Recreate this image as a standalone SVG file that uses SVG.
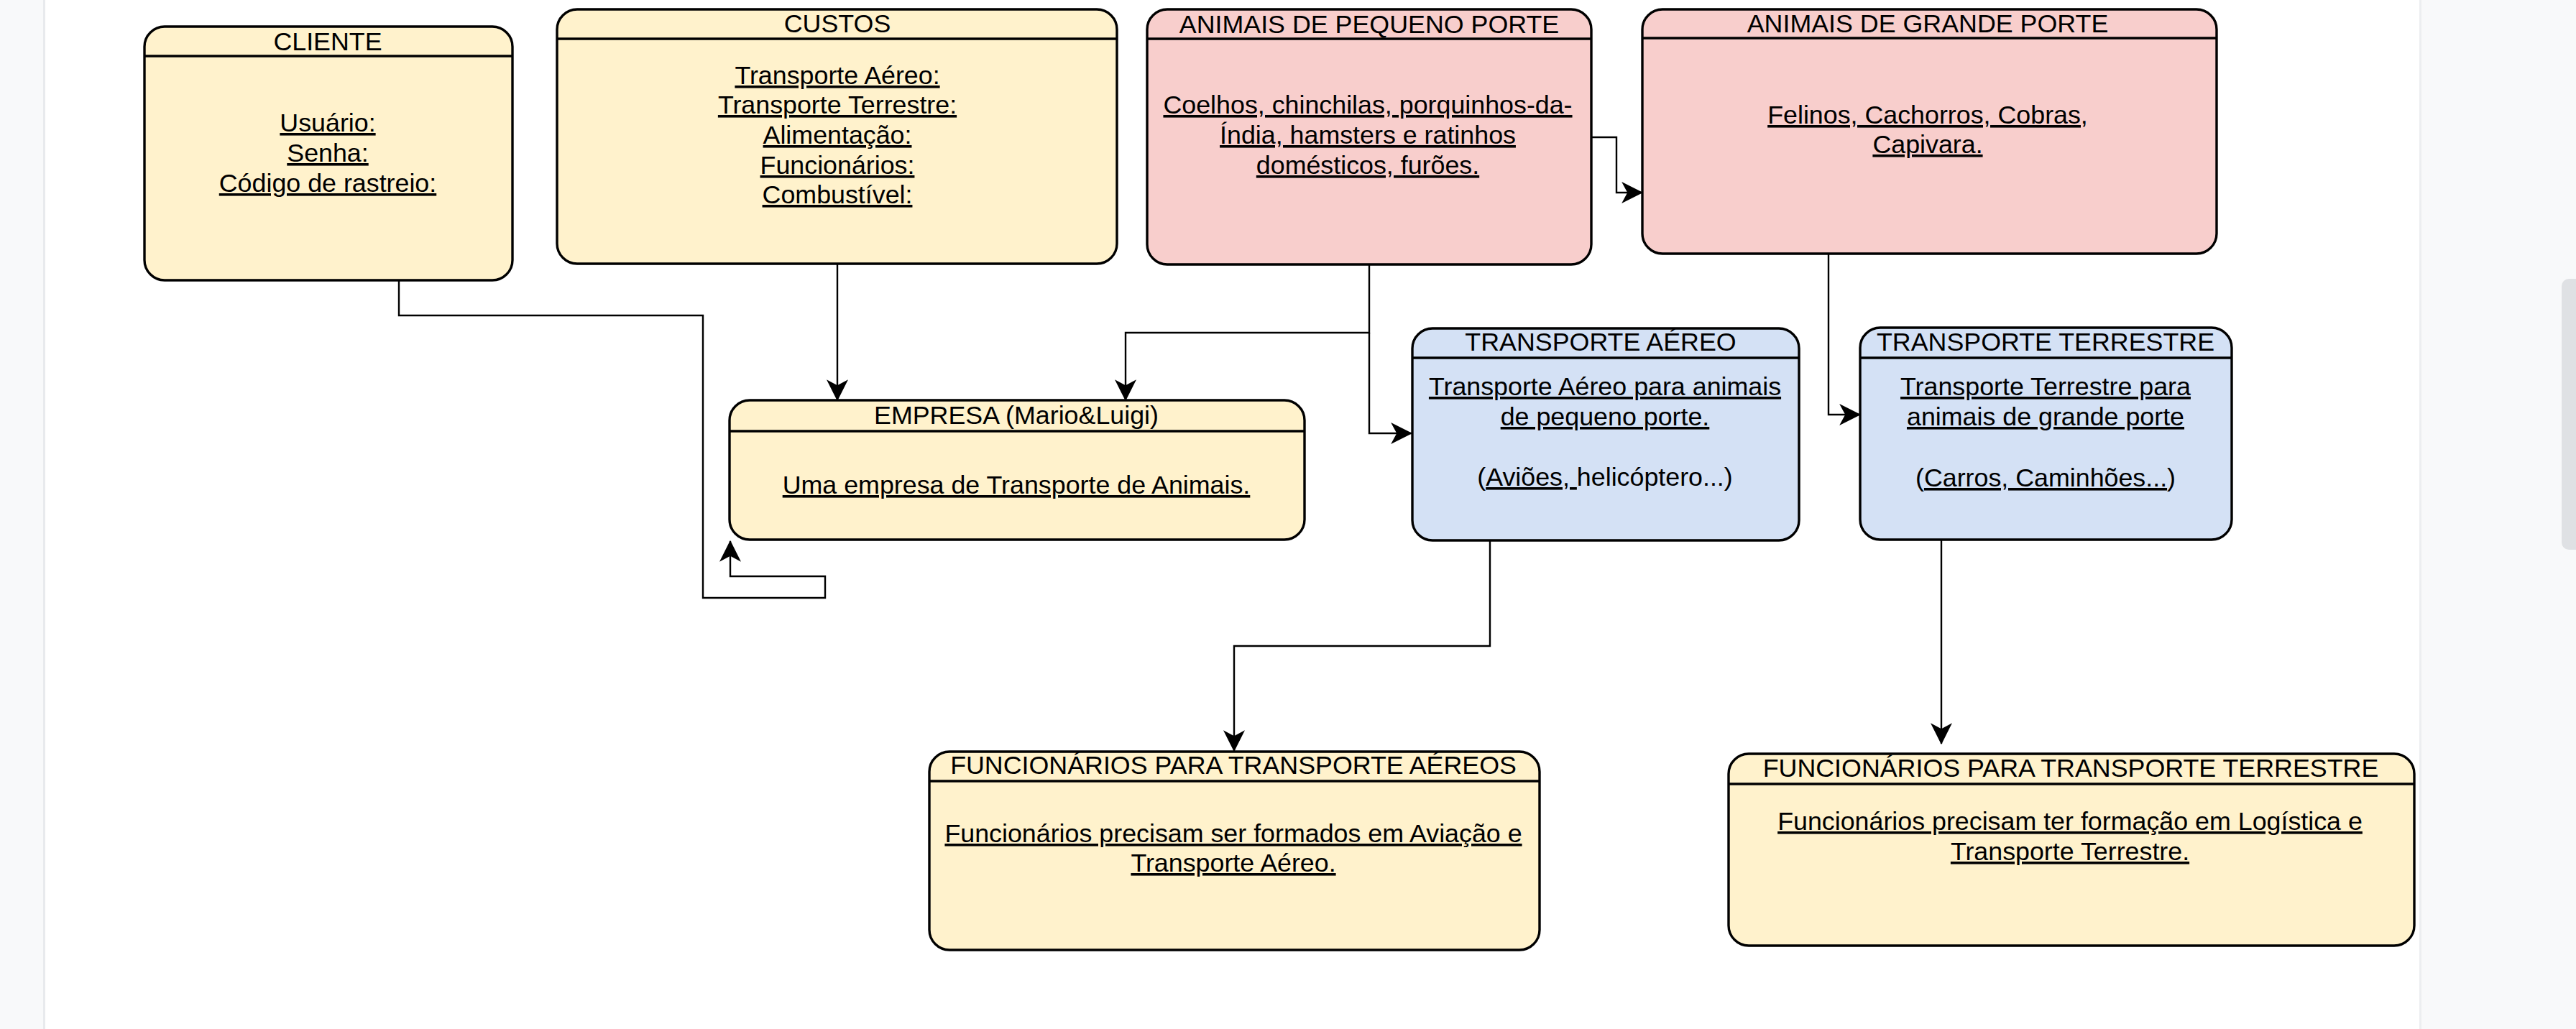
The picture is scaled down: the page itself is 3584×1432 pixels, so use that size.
<svg xmlns="http://www.w3.org/2000/svg" width="3584" height="1432" viewBox="0 0 3584 1432">
<style>
.box{stroke:#000;stroke-width:3.4}
.y{fill:#fff2cc}.p{fill:#f8cecc}.b{fill:#d4e1f5}
.hl{stroke:#000;stroke-width:3.4}
text{font-family:"Liberation Sans",Arial,Helvetica,sans-serif;font-size:35.8px;fill:#000;text-anchor:middle}
.u{text-decoration:underline}
.c{fill:none;stroke:#000;stroke-width:2.4}
</style>
<defs>
<marker id="arr" markerUnits="userSpaceOnUse" markerWidth="30" markerHeight="30" viewBox="0 0 26 26" refX="25" refY="13" orient="auto">
<path d="M0,0 L26,13 L0,26 L7,13 Z" fill="#000"/>
</marker>
</defs>
<rect x="0" y="0" width="3584" height="1432" fill="#ffffff"/>
<rect x="0" y="0" width="60" height="1432" fill="#f8f9fa"/>
<rect x="60" y="0" width="3" height="1432" fill="#e8eaed"/>
<rect x="3368" y="0" width="216" height="1432" fill="#f8f9fa"/>
<rect x="3366" y="0" width="3" height="1432" fill="#eceef0"/>
<rect x="3564" y="388" width="30" height="377" rx="10" fill="#dfe1e4"/>

<g id="connectors">
<path class="c" d="M555,390 V439 H978 V832 H1148 V802 H1016 V753" marker-end="url(#arr)"/>
<path class="c" d="M1165,367 V557" marker-end="url(#arr)"/>
<path class="c" d="M1905,368 V463 H1566 V557" marker-end="url(#arr)"/>
<path class="c" d="M1905,463 V603 H1964" marker-end="url(#arr)"/>
<path class="c" d="M2214,191 H2249 V268 H2285" marker-end="url(#arr)"/>
<path class="c" d="M2544,353 V577 H2588" marker-end="url(#arr)"/>
<path class="c" d="M2073,752 V899 H1717 V1045" marker-end="url(#arr)"/>
<path class="c" d="M2701,751 V1035" marker-end="url(#arr)"/>
</g>

<g id="cliente">
<rect class="box y" x="201" y="37" width="512" height="353" rx="28"/>
<line class="hl" x1="201" y1="78" x2="713" y2="78"/>
<text x="456" y="70">CLIENTE</text>
<text x="456" y="183" class="u">Usuário:</text>
<text x="456" y="225" class="u">Senha:</text>
<text x="456" y="267" class="u">Código de rastreio:</text>
</g>

<g id="custos">
<rect class="box y" x="775" y="13" width="779" height="354" rx="28"/>
<line class="hl" x1="775" y1="54" x2="1554" y2="54"/>
<text x="1165" y="45">CUSTOS</text>
<text x="1165" y="117" class="u">Transporte Aéreo:</text>
<text x="1165" y="158" class="u">Transporte Terrestre:</text>
<text x="1165" y="200" class="u">Alimentação:</text>
<text x="1165" y="242" class="u">Funcionários:</text>
<text x="1165" y="283" class="u">Combustível:</text>
</g>

<g id="pequeno">
<rect class="box p" x="1596" y="13" width="618" height="355" rx="28"/>
<line class="hl" x1="1596" y1="54" x2="2214" y2="54"/>
<text x="1905" y="46">ANIMAIS DE PEQUENO PORTE</text>
<text x="1903" y="158" class="u">Coelhos, chinchilas, porquinhos-da-</text>
<text x="1903" y="200" class="u">Índia, hamsters e ratinhos</text>
<text x="1903" y="242" class="u">domésticos, furões.</text>
</g>

<g id="grande">
<rect class="box p" x="2285" y="13" width="799" height="340" rx="28"/>
<line class="hl" x1="2285" y1="53" x2="3084" y2="53"/>
<text x="2682" y="45">ANIMAIS DE GRANDE PORTE</text>
<text x="2682" y="172" class="u">Felinos, Cachorros, Cobras,</text>
<text x="2682" y="213" class="u">Capivara.</text>
</g>

<g id="empresa">
<rect class="box y" x="1015" y="557" width="800" height="194" rx="28"/>
<line class="hl" x1="1015" y1="600" x2="1815" y2="600"/>
<text x="1414" y="590">EMPRESA (Mario&amp;Luigi)</text>
<text x="1414" y="687" class="u">Uma empresa de Transporte de Animais.</text>
</g>

<g id="aereo">
<rect class="box b" x="1965" y="457" width="538" height="295" rx="28"/>
<line class="hl" x1="1965" y1="498" x2="2503" y2="498"/>
<text x="2227" y="488">TRANSPORTE AÉREO</text>
<text x="2233" y="550" class="u">Transporte Aéreo para animais</text>
<text x="2233" y="592" class="u">de pequeno porte.</text>
<text x="2233" y="676">(<tspan class="u">Aviões, </tspan>helicóptero...)</text>
</g>

<g id="terrestre">
<rect class="box b" x="2588" y="456" width="517" height="295" rx="28"/>
<line class="hl" x1="2588" y1="498" x2="3105" y2="498"/>
<text x="2846" y="488">TRANSPORTE TERRESTRE</text>
<text x="2846" y="550" class="u">Transporte Terrestre para</text>
<text x="2846" y="592" class="u">animais de grande porte</text>
<text x="2846" y="677">(<tspan class="u">Carros, Caminhões...</tspan>)</text>
</g>

<g id="func-aereo">
<rect class="box y" x="1293" y="1046" width="849" height="276" rx="28"/>
<line class="hl" x1="1293" y1="1087" x2="2142" y2="1087"/>
<text x="1716" y="1077">FUNCIONÁRIOS PARA TRANSPORTE AÉREOS</text>
<text x="1716" y="1172" class="u">Funcionários precisam ser formados em Aviação e</text>
<text x="1716" y="1213" class="u">Transporte Aéreo.</text>
</g>

<g id="func-terrestre">
<rect class="box y" x="2405" y="1049" width="954" height="267" rx="28"/>
<line class="hl" x1="2405" y1="1091" x2="3359" y2="1091"/>
<text x="2881" y="1081">FUNCIONÁRIOS PARA TRANSPORTE TERRESTRE</text>
<text x="2880" y="1155" class="u">Funcionários precisam ter formação em Logística e</text>
<text x="2880" y="1197" class="u">Transporte Terrestre.</text>
</g>
</svg>
